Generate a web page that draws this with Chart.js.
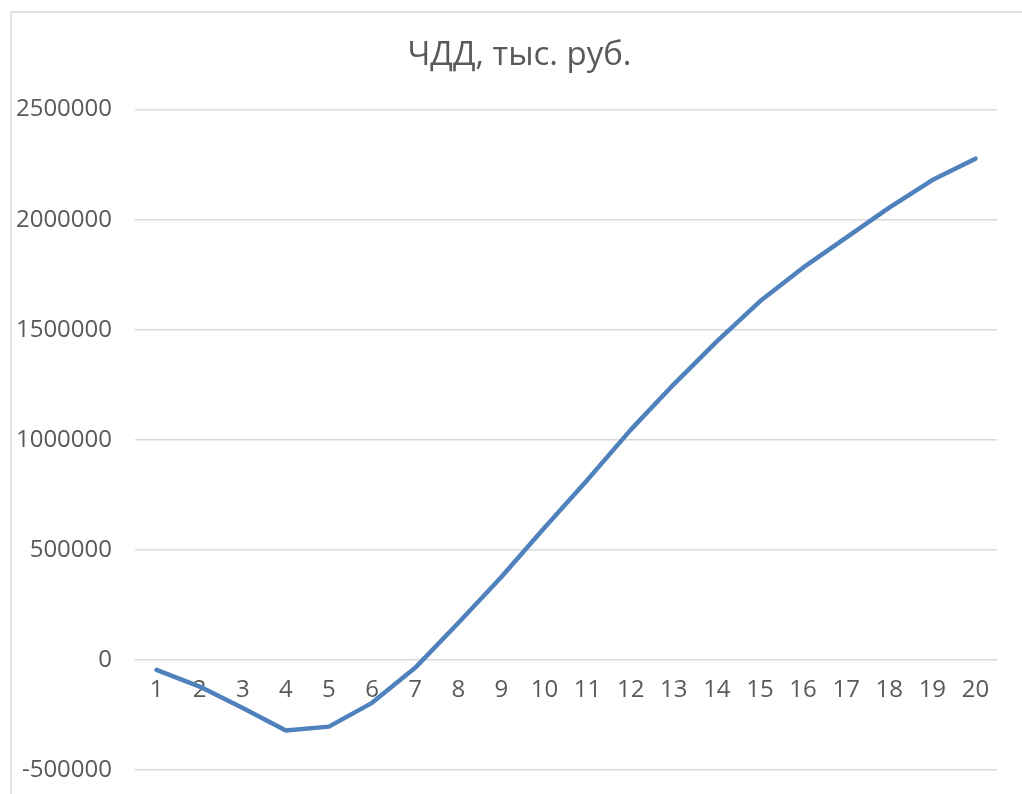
<!DOCTYPE html>
<html>
<head>
<meta charset="utf-8">
<script src="https://cdn.jsdelivr.net/npm/chart.js@4"></script>
<style>
  html, body { margin: 0; padding: 0; background: #fff; }
  #wrap { width: 1022px; height: 794px; }
</style>
</head>
<body>
<div id="wrap"><canvas id="npvChart" width="1022" height="794"></canvas></div>
<script>
const years = ["1", "2", "3", "4", "5", "6", "7", "8", "9", "10",
               "11", "12", "13", "14", "15", "16", "17", "18", "19", "20"];
const npv = [-45000, -121000, -218000, -321000, -303000, -195000, -36000, 168000, 377000, 600000,
             818000, 1045000, 1252000, 1447000, 1629000, 1782000, 1918000, 2055000, 2180000, 2277000];
const yTicks = [-500000, 0, 500000, 1000000, 1500000, 2000000, 2500000];

const textColor = "#595959";
const gridColor = "#d9d9d9";

// рамка области диаграммы, как в Excel
const frame = {
  id: "frame",
  beforeDraw(chart) {
    const c = chart.ctx;
    c.save();
    c.fillStyle = "#fff";
    c.fillRect(0, 0, chart.width, chart.height);
    c.strokeStyle = gridColor;
    c.lineWidth = 1.5;
    c.strokeRect(11, 12, 1100, 1000);
    c.restore();
  },
  // заголовок в Excel центрирован по всей рамке, чуть правее
  afterLayout(chart) {
    const t = chart.titleBlock;
    if (t) { t.left += 13; t.right += 13; }
  }
};

function noPadding(scale) {
  scale.paddingTop = 0;
  scale.paddingBottom = 0;
  scale.paddingLeft = 0;
  scale.paddingRight = 0;
}

const ctx = document.getElementById("npvChart").getContext("2d");
new Chart(ctx, {
  type: "line",
  data: {
    labels: years,
    datasets: [{
      label: "ЧДД, тыс. руб.",
      data: npv,
      borderColor: "#4f81bd",
      backgroundColor: "#4f81bd",
      borderWidth: 4.5,
      pointRadius: 0,
      tension: 0,
      borderCapStyle: "round",
      borderJoinStyle: "round"
    }]
  },
  options: {
    responsive: false,
    animation: false,
    layout: { padding: { left: 16, right: 25, bottom: 24, top: 0 } },
    plugins: {
      legend: { display: false },
      tooltip: { enabled: false },
      title: {
        display: true,
        text: "ЧДД, тыс. руб.",
        color: textColor,
        font: { family: "'Open Sans'", size: 33, weight: "normal" },
        padding: { top: 36, bottom: 34 }
      }
    },
    scales: {
      x: {
        type: "category",
        position: { y: 0 },
        offset: true,
        afterFit: noPadding,
        grid: { display: false, drawTicks: false },
        border: { display: false },
        ticks: {
          color: textColor,
          font: { family: "'Open Sans'", size: 24 },
          padding: 16,
          maxRotation: 0,
          autoSkip: false
        }
      },
      y: {
        min: -500000,
        max: 2500000,
        afterFit(scale) { noPadding(scale); scale.width = 119; },
        afterBuildTicks(scale) { scale.ticks = yTicks.map(v => ({ value: v })); },
        grid: { color: gridColor, lineWidth: 1.5, drawTicks: false },
        border: { display: false },
        ticks: {
          color: textColor,
          font: { family: "'Open Sans'", size: 24 },
          padding: 23,
          callback: v => String(v)
        }
      }
    }
  },
  plugins: [frame]
});
</script>
</body>
</html>
